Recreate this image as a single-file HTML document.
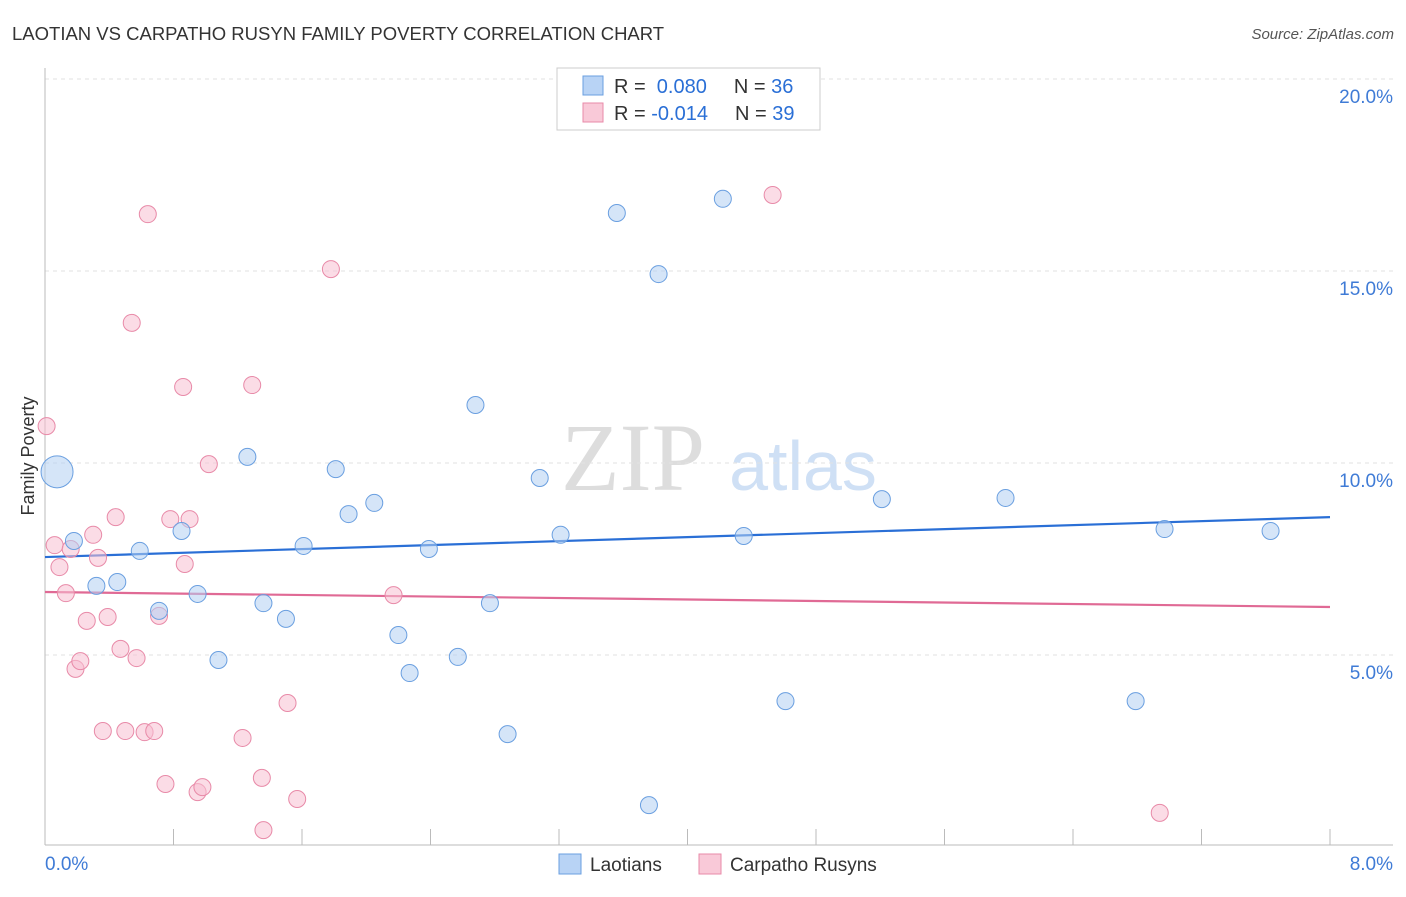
<!DOCTYPE html>
<html><head><meta charset="utf-8"><style>
body{margin:0;background:#fff;font-family:"Liberation Sans",sans-serif;}
</style></head><body>
<svg width="1406" height="892" xmlns="http://www.w3.org/2000/svg" font-family="Liberation Sans, sans-serif">
<text x="12" y="40" font-size="18.5" fill="#333">LAOTIAN VS CARPATHO RUSYN FAMILY POVERTY CORRELATION CHART</text>
<text x="1394" y="39" font-size="15" fill="#555" font-style="italic" text-anchor="end">Source: ZipAtlas.com</text>
<g>
<text x="633" y="490" font-size="96" fill="#ddd" font-family="Liberation Serif, serif" text-anchor="middle">ZIP</text>
<text x="803" y="490" font-size="70" fill="#cfe0f5" text-anchor="middle">atlas</text>
</g>
<g id="grid"></g>
<g id="axes"></g>
<g id="lines"></g>
<g id="points"></g>
<text transform="translate(34,456) rotate(-90)" font-size="18" fill="#333" text-anchor="middle">Family Poverty</text>
<g>
<rect x="557" y="68" width="263" height="62" fill="#fff" stroke="#ccc"/>
<rect x="583" y="76" width="20" height="19" fill="#b8d3f5" stroke="#6a9fe0"/>
<rect x="583" y="103" width="20" height="19" fill="#f9c9d8" stroke="#e88aa8"/>
<text x="614" y="93" font-size="20" fill="#333">R = <tspan fill="#2a6fd6">&#160;0.080</tspan><tspan dx="27" fill="#333">N = </tspan><tspan fill="#2a6fd6">36</tspan></text>
<text x="614" y="120" font-size="20" fill="#333">R = <tspan fill="#2a6fd6">-0.014</tspan><tspan dx="27" fill="#333">N = </tspan><tspan fill="#2a6fd6">39</tspan></text>
</g>
<g>
<rect x="559" y="854" width="22" height="20" fill="#b8d3f5" stroke="#6a9fe0"/>
<text x="590" y="871" font-size="19" fill="#333">Laotians</text>
<rect x="699" y="854" width="22" height="20" fill="#f9c9d8" stroke="#e88aa8"/>
<text x="730" y="871" font-size="19" fill="#333">Carpatho Rusyns</text>
</g>
</svg>
<script>
const yTicks=[5,10,15,20];
const yTickLabels=["5.0%","10.0%","15.0%","20.0%"];
const xTickLabels=["0.0%","8.0%"];
const blueX=[0.075,0.18,0.32,0.45,0.59,0.71,0.85,0.95,1.08,1.26,1.36,1.50,1.61,1.81,1.89,2.05,2.20,2.27,2.39,2.57,2.68,2.77,2.88,3.08,3.21,3.56,3.76,3.82,4.22,4.35,4.61,5.21,5.98,6.79,6.97,7.63];
const blueY=[9.77,7.97,6.80,6.90,7.71,6.15,8.23,6.59,4.87,10.16,6.35,5.94,7.84,9.84,8.67,8.96,5.52,4.53,7.76,4.95,11.51,6.35,2.94,9.61,8.13,16.51,1.09,14.92,16.88,8.10,3.80,9.06,9.09,3.80,8.28,8.23];
const pinkX=[0.01,0.06,0.09,0.13,0.16,0.19,0.22,0.26,0.30,0.33,0.36,0.39,0.44,0.47,0.50,0.54,0.57,0.62,0.64,0.68,0.71,0.75,0.78,0.86,0.87,0.95,0.98,0.90,1.02,1.23,1.29,1.35,1.36,1.51,1.57,1.78,2.17,4.53,6.94];
const pinkY=[10.96,7.86,7.29,6.61,7.76,4.64,4.84,5.89,8.13,7.53,3.02,5.99,8.59,5.16,3.02,13.65,4.92,2.99,16.48,3.02,6.02,1.64,8.54,11.98,7.37,1.43,1.56,8.54,9.97,2.84,12.03,1.80,0.44,3.75,1.25,15.05,6.56,16.98,0.89];
const blueTrend=[7.55,8.59];
const pinkTrend=[6.64,6.25];
const NS="http://www.w3.org/2000/svg";
const X=v=>45+v*(1285/8), Y=v=>847-v*38.4;
function mk(tag,attrs,parent){const e=document.createElementNS(NS,tag);for(const k in attrs)e.setAttribute(k,attrs[k]);document.getElementById(parent).appendChild(e);return e;}
yTicks.forEach((t,i)=>{
 const g=mk('line',{x1:45,x2:1393,y1:Y(t),y2:Y(t),stroke:'#e2e2e2','stroke-dasharray':'4,4'},'grid');
 
 
 const l=mk('text',{x:1393,y:Y(t)+24,'font-size':19,fill:'#3f7bd6','text-anchor':'end'},'grid');
 l.textContent=yTickLabels[i];
 
 
});
let a=mk('line',{x1:45,x2:45,y1:68,y2:845,stroke:'#bbb'},'axes');


a=mk('line',{x1:45,x2:1393,y1:845,y2:845,stroke:'#bbb'},'axes');


for(let i=1;i<=10;i++){const t=mk('line',{x1:X(i*0.8),x2:X(i*0.8),y1:829,y2:845,stroke:'#bbb'},'axes');
 
 }
[[0,'start',45],[8,'end',1393]].forEach((d,i)=>{const t=mk('text',{x:d[2],y:870,'font-size':19,fill:'#3f7bd6','text-anchor':d[1]},'axes');t.textContent=xTickLabels[i];
 
 });
function pts(xs,ys,fill,stroke,name){xs.forEach((x,i)=>{const r=(i===0&&name==='laotian-point')?16:8.5;
 const c=mk('circle',{cx:X(x),cy:Y(ys[i]),r:r,fill:fill,'fill-opacity':0.55,stroke:stroke,'stroke-width':1},'points');
 
 });}
pts(pinkX,pinkY,'#f7bfd1','#e88aa8','carpatho-rusyn-point');
pts(blueX,blueY,'#b3cff3','#6a9fe0','laotian-point');
let tl=mk('line',{x1:X(0),x2:X(8),y1:Y(blueTrend[0]),y2:Y(blueTrend[1]),stroke:'#2a6fd6','stroke-width':2.2},'lines');


tl=mk('line',{x1:X(0),x2:X(8),y1:Y(pinkTrend[0]),y2:Y(pinkTrend[1]),stroke:'#e06a95','stroke-width':2.2},'lines');


</script>
</body></html>
